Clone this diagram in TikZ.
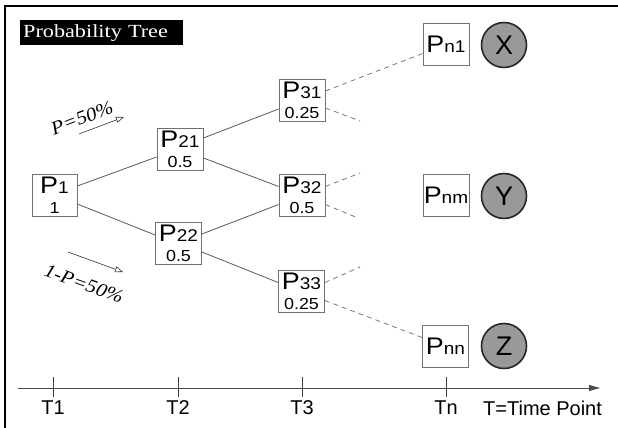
\documentclass[tikz,border=0pt]{standalone}
\usepackage{fontspec}
\usetikzlibrary{arrows.meta}
\setmainfont{Liberation Serif}
\newfontfamily\boxfont[FakeStretch=1.12]{Liberation Sans}
\newfontfamily\axisfont{Liberation Sans}
\newfontfamily\titlefont[FakeStretch=1.2]{Liberation Serif}
\newfontfamily\probfont[FakeStretch=1.1]{Liberation Serif Italic}
\definecolor{linegray}{HTML}{5A5A5A}
\definecolor{boxgray}{HTML}{707070}
\definecolor{dashgray}{HTML}{7A7A7A}
\definecolor{ballgray}{HTML}{999999}
\tikzset{
  pbx/.style={draw=boxgray, line width=0.8pt, fill=white, minimum width=46pt,
    minimum height=42pt, inner sep=0pt, align=center,
    font=\boxfont\fontsize{16}{20}\selectfont},
  ball/.style={circle, draw=black!85, line width=1.6pt, fill=ballgray,
    minimum size=45pt, inner sep=0pt, font=\axisfont\fontsize{27}{27}\selectfont},
  tree/.style={draw=linegray, line width=0.8pt},
  stub/.style={draw=dashgray, line width=0.8pt, dash pattern=on 5pt off 4pt},
  hint/.style={draw=black!80, line width=0.6pt,
    -{Triangle[open, length=8pt, width=6pt]}},
  tick/.style={draw=black!75, line width=0.7pt},
  tlabel/.style={font=\axisfont\fontsize{20}{20}\selectfont, inner sep=0pt},
  problabel/.style={font=\probfont\fontsize{19}{19}\selectfont, inner sep=0pt},
}
\newcommand{\pl}[2]{{\fontsize{24}{24}\selectfont P}{\fontsize{17}{17}\selectfont #1}\\#2}
\newcommand{\pn}[1]{{\fontsize{24}{24}\selectfont P}{\fontsize{17}{17}\selectfont #1}}
\begin{document}
\begin{tikzpicture}[x=1pt, y=-1pt]
\useasboundingbox (0,0) rectangle (618,428);
\fill[white] (0,0) rectangle (618,428);
% frame
\draw[black, line width=1.5pt] (5,428) -- (5,6) -- (618,6);

% title
\node[fill=black, text=white, anchor=north west, minimum height=25pt,
  text width=157pt, inner xsep=3pt, inner ysep=0pt, align=left,
  font=\titlefont\fontsize{18.5}{18.5}\selectfont] (title) at (20,20) {Probability Tree};

% probability boxes
\node[pbx, minimum width=45pt] (P1) at (54.5,195) {\pl{1}{1}};
\node[pbx] (P21) at (180,149) {\pl{21}{0.5}};
\node[pbx] (P22) at (178.5,243) {\pl{22}{0.5}};
\node[pbx] (P31) at (302,100) {\pl{31}{0.25}};
\node[pbx] (P32) at (302,195.5) {\pl{32}{0.5}};
\node[pbx] (P33) at (301.5,291.5) {\pl{33}{0.25}};
\node[pbx] (Pn1) at (446,44.5) {\pn{n1}};
\node[pbx] (Pnm) at (446,195.5) {\pn{nm}};
\node[pbx] (Pnn) at (445.5,346.5) {\pn{nn}};

% outcomes
\node[ball] (X) at (504,45) {X};
\node[ball] (Y) at (504,196) {Y};
\node[ball] (Z) at (504,346) {Z};

% tree branches
\draw[tree] ([yshift=9pt]P1.east) -- ([yshift=-8pt]P21.west);
\draw[tree] ([yshift=-9pt]P1.east) -- ([yshift=8pt]P22.west);
\draw[tree] ([yshift=11pt]P21.east) -- ([yshift=-9pt]P31.west);
\draw[tree] ([yshift=-9pt]P21.east) -- ([yshift=9pt]P32.west);
\draw[tree] ([yshift=9pt]P22.east) -- ([yshift=-9pt]P32.west);
\draw[tree] ([yshift=-9pt]P22.east) -- ([yshift=9pt]P33.west);

% continuation stubs
\coordinate (s31) at (360,121);
\coordinate (s32a) at (360,173);
\coordinate (s32b) at (358,218);
\coordinate (s33a) at (360,267);
\draw[stub] ([yshift=9pt]P31.east) -- ([yshift=-9pt]Pn1.west);
\draw[stub] ([yshift=-8pt]P31.east) -- (s31);
\draw[stub] ([yshift=9pt]P32.east) -- (s32a);
\draw[stub] ([yshift=-9pt]P32.east) -- (s32b);
\draw[stub] ([yshift=9pt]P33.east) -- (s33a);
\draw[stub] ([yshift=-9pt]P33.east) -- ([yshift=9pt]Pnn.west);

% branch probabilities
\node[problabel, rotate=21] (pup) at (82,118) {P=50\%};
\coordinate (a1s) at (79,134);
\coordinate (a1e) at (124,117);
\draw[hint] (a1s) -- (a1e);
\node[problabel, rotate=-20] (pdown) at (84,284) {1-P=50\%};
\coordinate (a2s) at (68,252);
\coordinate (a2e) at (123,272);
\draw[hint] (a2s) -- (a2e);

% time axis
\coordinate (ax0) at (18,388);
\coordinate (ax1) at (600,388);
\draw[draw=black!70, line width=0.8pt, -{Triangle[length=11pt, width=6pt]}] (ax0) -- (ax1);
\foreach \n/\x/\t in {t1/53/T1, t2/178/T2, t3/302/T3, tn/446/Tn}{
  \draw[tick] (\x,377) -- (\x,397);
  \node[tlabel] (\n) at (\x,408) {\t};
}
\node[tlabel, anchor=west] (tdef) at (483,408) {T=Time Point};
\end{tikzpicture}
\end{document}
